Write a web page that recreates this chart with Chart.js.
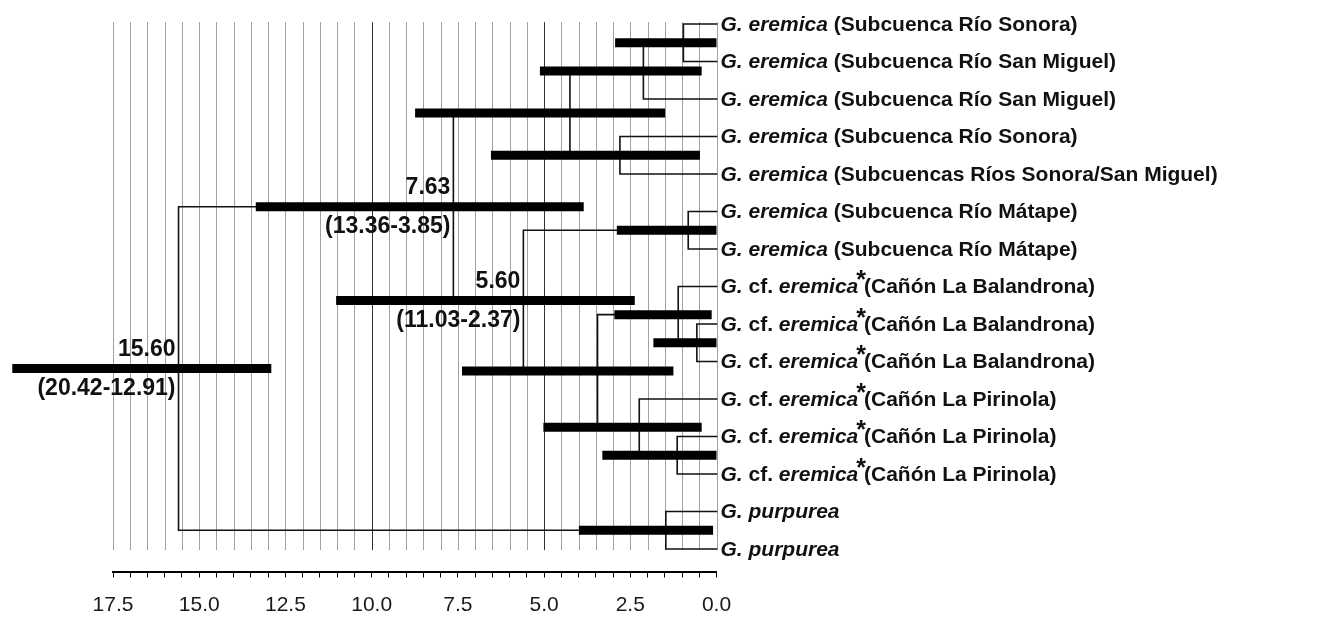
<!DOCTYPE html>
<html>
<head>
<meta charset="utf-8">
<script src="https://cdn.jsdelivr.net/npm/chart.js@4.4.0/dist/chart.umd.min.js"></script>
<style>
  html, body { margin: 0; padding: 0; background: #fff; }
  #wrap { width: 1318px; height: 618px; }
</style>
</head>
<body>
<div id="wrap"><canvas id="tree" width="1318" height="618"></canvas></div>
<script>
// Tip labels, top to bottom. Pieces: i = italic, n = upright, s = raised star
const leafLabels = [
  [["G. eremica", "i"], [" (Subcuenca Río Sonora)", "n"]],
  [["G. eremica", "i"], [" (Subcuenca Río San Miguel)", "n"]],
  [["G. eremica", "i"], [" (Subcuenca Río San Miguel)", "n"]],
  [["G. eremica", "i"], [" (Subcuenca Río Sonora)", "n"]],
  [["G. eremica", "i"], [" (Subcuencas Ríos Sonora/San Miguel)", "n"]],
  [["G. eremica", "i"], [" (Subcuenca Río Mátape)", "n"]],
  [["G. eremica", "i"], [" (Subcuenca Río Mátape)", "n"]],
  [["G.", "i"], [" cf. ", "n"], ["eremica", "i"], ["*", "s"], ["(Cañón La Balandrona)", "n"]],
  [["G.", "i"], [" cf. ", "n"], ["eremica", "i"], ["*", "s"], ["(Cañón La Balandrona)", "n"]],
  [["G.", "i"], [" cf. ", "n"], ["eremica", "i"], ["*", "s"], ["(Cañón La Balandrona)", "n"]],
  [["G.", "i"], [" cf. ", "n"], ["eremica", "i"], ["*", "s"], ["(Cañón La Pirinola)", "n"]],
  [["G.", "i"], [" cf. ", "n"], ["eremica", "i"], ["*", "s"], ["(Cañón La Pirinola)", "n"]],
  [["G.", "i"], [" cf. ", "n"], ["eremica", "i"], ["*", "s"], ["(Cañón La Pirinola)", "n"]],
  [["G. purpurea", "i"]],
  [["G. purpurea", "i"]]
];

// Internal nodes: age (Ma), 95% HPD and children (L = tip index, N = node index)
const nodeAges = [0.96, 2.12, 2.80, 4.25, 0.82, 0.57, 1.11, 1.14, 2.24, 3.45, 5.60, 7.63, 1.47, 15.60];
const hpdHigh  = [2.94, 5.12, 6.54, 8.74, 2.89, 1.83, 2.96, 3.31, 5.02, 7.38, 11.03, 13.36, 3.99, 20.42];
const hpdLow   = [0.00, 0.43, 0.48, 1.49, 0.00, 0.00, 0.14, 0.00, 0.43, 1.25, 2.37, 3.85, 0.10, 12.91];
const nodeChildren = [
  ["L0", "L1"], ["N0", "L2"], ["L3", "L4"], ["N1", "N2"],
  ["L5", "L6"], ["L8", "L9"], ["L7", "N5"], ["L11", "L12"],
  ["L10", "N7"], ["N6", "N8"], ["N4", "N9"], ["N3", "N10"],
  ["L13", "L14"], ["N11", "N12"]
];

// nodes with a printed age and interval
const labeledNodes = [13, 11, 10];
const ageLabels = ["15.60", "7.63", "5.60"];
const hpdLabels = ["(20.42-12.91)", "(13.36-3.85)", "(11.03-2.37)"];

// time axis
const tickLabels = ["17.5", "15.0", "12.5", "10.0", "7.5", "5.0", "2.5", "0.0"];
const gridStep = 0.5;
const darkGrid = [10, 5];

const FONT = '"Liberation Sans", Arial, Helvetica, sans-serif';

// y of a node = middle of its two children
const nodeY = [];
function getY(ref) {
  const k = +ref.slice(1);
  if (ref[0] === "L") return k;
  if (nodeY[k] === undefined) {
    nodeY[k] = (getY(nodeChildren[k][0]) + getY(nodeChildren[k][1])) / 2;
  }
  return nodeY[k];
}
function getAge(ref) {
  return ref[0] === "L" ? 0 : nodeAges[+ref.slice(1)];
}
nodeChildren.forEach((c, k) => getY("N" + k));

// elbow branches
const branchPts = [];
nodeChildren.forEach((kids, k) => {
  kids.forEach(c => {
    branchPts.push({ x: getAge(c), y: getY(c) });
    branchPts.push({ x: nodeAges[k], y: getY(c) });
    branchPts.push({ x: nodeAges[k], y: nodeY[k] });
    branchPts.push({ x: null, y: null });
  });
});

// HPD bars
const hpdPts = [];
nodeAges.forEach((a, k) => {
  hpdPts.push({ x: hpdHigh[k], y: nodeY[k] });
  hpdPts.push({ x: hpdLow[k], y: nodeY[k] });
  hpdPts.push({ x: null, y: null });
});

const gridPlugin = {
  id: "gridLines",
  beforeDatasetsDraw(chart) {
    const ctx = chart.ctx, xs = chart.scales.x, ys = chart.scales.y;
    const top = ys.getPixelForValue(-0.05), bottom = ys.getPixelForValue(14.03);
    ctx.save();
    for (let v = 0; v <= 17.5 + 1e-9; v += gridStep) {
      const x = Math.round(xs.getPixelForValue(v)) + 0.5;
      ctx.strokeStyle = darkGrid.includes(v) ? "#333" : "#a0a0a0";
      ctx.lineWidth = 1;
      ctx.beginPath();
      ctx.moveTo(x, top);
      ctx.lineTo(x, bottom);
      ctx.stroke();
    }
    ctx.restore();
  }
};

const labelPlugin = {
  id: "treeLabels",
  afterDatasetsDraw(chart) {
    const ctx = chart.ctx, xs = chart.scales.x, ys = chart.scales.y;
    ctx.save();
    ctx.fillStyle = "#111";
    ctx.textBaseline = "middle";
    ctx.textAlign = "left";
    const x0 = xs.getPixelForValue(0) + 4;
    leafLabels.forEach((parts, i) => {
      let x = x0;
      const y = ys.getPixelForValue(i) + 1;
      parts.forEach(([txt, st]) => {
        if (st === "s") {
          ctx.font = "bold 25px " + FONT;
          ctx.fillText(txt, x - 2, y - 6);
          x += ctx.measureText(txt).width - 4;
          return;
        }
        ctx.font = (st === "i" ? "italic bold 21px " : "bold 21px ") + FONT;
        ctx.fillText(txt, x, y);
        x += ctx.measureText(txt).width;
      });
    });
    // node ages and intervals
    ctx.font = "bold 23px " + FONT;
    ctx.textAlign = "right";
    labeledNodes.forEach((k, j) => {
      const x = xs.getPixelForValue(nodeAges[k]) - 3;
      const y = ys.getPixelForValue(nodeY[k]);
      ctx.fillText(ageLabels[j], x, y - 19);
      ctx.fillText(hpdLabels[j], x, y + 20);
    });
    ctx.restore();
  }
};

new Chart(document.getElementById("tree"), {
  type: "scatter",
  data: {
    datasets: [
      {
        label: "HPD",
        data: hpdPts,
        showLine: true,
        borderColor: "#000",
        borderWidth: 9,
        borderCapStyle: "butt",
        pointRadius: 0,
        spanGaps: false,
        clip: false,
        order: 0
      },
      {
        label: "branches",
        data: branchPts,
        showLine: true,
        borderColor: "#111",
        borderWidth: 1.6,
        borderCapStyle: "square",
        borderJoinStyle: "miter",
        pointRadius: 0,
        spanGaps: false,
        clip: false,
        order: 1
      }
    ]
  },
  options: {
    responsive: false,
    animation: false,
    events: [],
    layout: { padding: { left: 113, right: 601.5, top: 5.25, bottom: 0 } },
    plugins: { legend: { display: false }, tooltip: { enabled: false } },
    scales: {
      x: {
        type: "linear",
        reverse: true,
        min: 0,
        max: 17.5,
        border: { display: true, color: "#000", width: 2 },
        grid: { drawOnChartArea: false, drawTicks: true, tickLength: 6, color: "#000" },
        afterBuildTicks: axis => {
          const t = [];
          for (let v = 0; v <= 17.5 + 1e-9; v += gridStep) t.push({ value: Math.round(v * 10) / 10 });
          axis.ticks = t;
        },
        afterFit: axis => { axis.height = 46.5; },
        ticks: {
          autoSkip: false,
          maxRotation: 0,
          padding: 15.5,
          color: "#1a1a1a",
          font: { family: FONT, size: 21 },
          callback: v => tickLabels.find(s => parseFloat(s) === v) || ""
        }
      },
      y: {
        type: "linear",
        reverse: true,
        min: -0.5,
        max: 14.6,
        display: false
      }
    }
  },
  plugins: [gridPlugin, labelPlugin]
});
</script>
</body>
</html>
